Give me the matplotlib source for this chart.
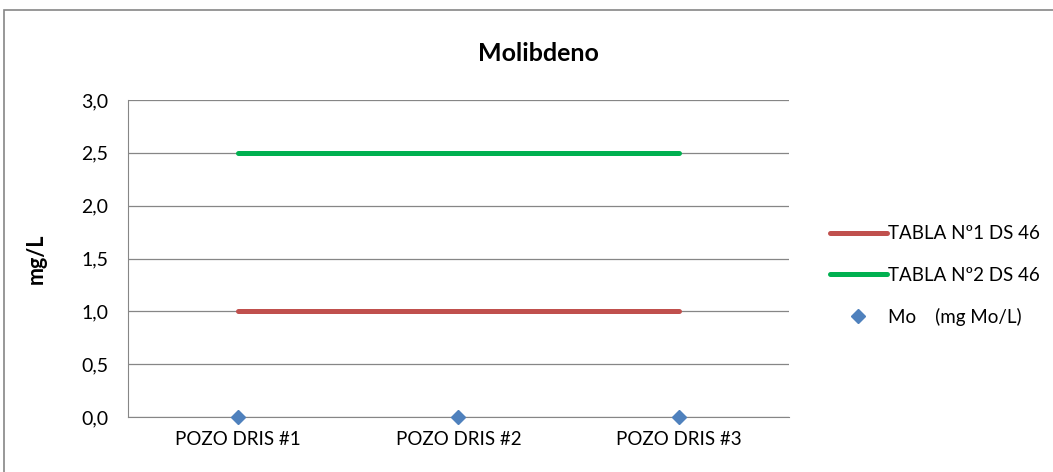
import matplotlib.pyplot as plt
from matplotlib.patches import Rectangle

plt.rcParams['font.family'] = ['Lato', 'DejaVu Sans']

pozos = ["POZO DRIS #1", "POZO DRIS #2", "POZO DRIS #3"]
tabla1 = [1.0, 1.0, 1.0]
tabla2 = [2.5, 2.5, 2.5]
mo = [0.0, 0.0, 0.0]
yticks = [0.0, 0.5, 1.0, 1.5, 2.0, 2.5, 3.0]

fig = plt.figure(figsize=(10.53, 4.72), dpi=100)
fig.patches.append(Rectangle((4 / 1053, -0.1), 1.2, 0.979 + 0.1, transform=fig.transFigure,
                             fill=False, edgecolor='#868686', linewidth=1.2))
ax = fig.add_axes([128 / 1053, 1 - 417 / 472, 661 / 1053, 317 / 472])

x = range(len(pozos))
ax.plot(x, tabla1, color='#C0504D', linewidth=3.6, solid_capstyle='round', label='TABLA Nº1 DS 46', zorder=3)
ax.plot(x, tabla2, color='#00B050', linewidth=3.6, solid_capstyle='round', label='TABLA Nº2 DS 46', zorder=3)
ax.plot(x, mo, linestyle='none', marker='D', markersize=7.5, color='#4F81BD', label='Mo    (mg Mo/L)',
        zorder=4, clip_on=False)

ax.set_xlim(-0.5, 2.5)
ax.set_ylim(0, 3)
ax.set_xticks(list(x))
ax.set_xticklabels(pozos, fontsize=13.5)
ax.set_yticks(yticks)
ax.set_yticklabels([f"{v:.1f}".replace('.', ',') for v in yticks], fontsize=14)
ax.tick_params(length=0, pad=14)
ax.tick_params(axis='x', pad=10)
ax.grid(axis='y', color='#868686', linewidth=0.9)
ax.set_axisbelow(True)
for s in ['top', 'right']:
    ax.spines[s].set_visible(False)
for s in ['left', 'bottom']:
    ax.spines[s].set_color('#868686')

ax.set_ylabel('mg/L', fontsize=15.5, fontweight='bold', labelpad=25)
fig.text(0.511, 0.886, 'Molibdeno', ha='center', va='center', fontsize=18, fontweight='bold')

ax.legend(loc='center left', bbox_to_anchor=(1.037, 0.446), frameon=False, fontsize=13.5,
          handlelength=3.0, handletextpad=0.05, labelspacing=1.3)

fig.savefig('out.png', dpi=100)
